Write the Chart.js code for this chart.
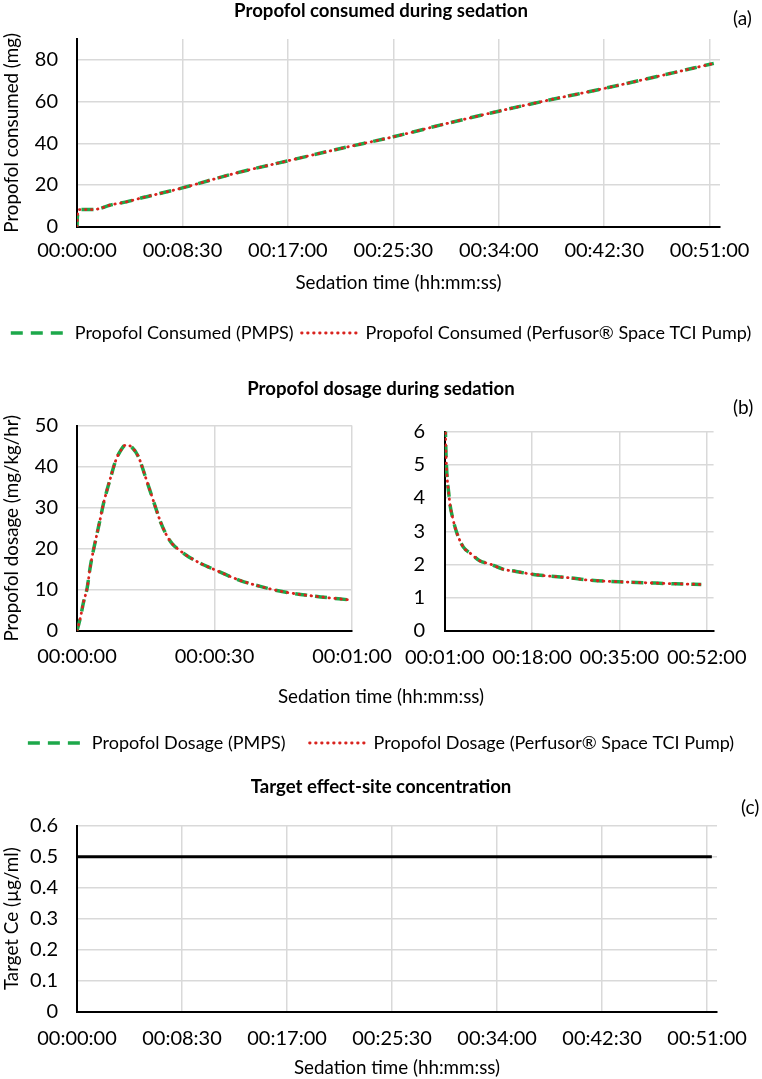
<!DOCTYPE html>
<html lang="en">
<head>
<meta charset="UTF-8">
<title>Propofol sedation</title>
<script src="https://cdn.jsdelivr.net/npm/chart.js@4"></script>
<style>
  body { margin: 0; background: #fff; font-family: Lato, sans-serif; }
  #page { position: relative; width: 762px; height: 1079px; overflow: hidden; }
  canvas { position: absolute; }
  .tag { position: absolute; font-size: 19px; line-height: 22px; color: #000; }
</style>
</head>
<body>
<div id="page">
  <canvas id="chartA" width="762" height="352" style="left:0;top:0"></canvas>
  <canvas id="chartB1" width="762" height="392" style="left:0;top:370px"></canvas>
  <canvas id="chartB2" width="382" height="276" style="left:380px;top:400px"></canvas>
  <canvas id="chartC" width="762" height="309" style="left:0;top:770px"></canvas>
  <span class="tag" style="left:733px;top:7px">(a)</span>
  <span class="tag" style="left:733px;top:396px">(b)</span>
  <span class="tag" style="left:741px;top:796px">(c)</span>
</div>

<script>
// (a) propofol consumed (mg) vs time (s)
const consumedTime = [0, 2, 10, 77, 110, 158, 239, 319, 400, 510, 765, 1020, 1275, 1530, 1785, 2040, 2295, 2550, 2805, 3080];
const consumedPMPS = [0, 5, 8.2, 8.2, 8.7, 10.3, 11.9, 14.0, 15.9, 18.6, 25.6, 31.6, 37.5, 43.1, 49.4, 55.4, 61.0, 66.3, 72.0, 78.3];
const consumedPerfusor = [0, 5, 8.2, 8.2, 8.7, 10.3, 11.9, 14.0, 15.9, 18.6, 25.6, 31.6, 37.5, 43.1, 49.4, 55.4, 61.0, 66.3, 72.0, 78.3];

// (b) dosage (mg/kg/hr), first minute
const dosageEarlyTime = [0, 0.7, 1.45, 2.2, 2.9, 3.6, 4.4, 5.1, 5.8, 6.55, 7.4, 8.35, 9.4, 10.7, 12, 13.4, 14.9, 16, 17.1, 18.2, 19.3, 20.7, 22.5, 24.4, 27, 30, 35.5, 40, 45, 52, 59.6];
const dosageEarlyPMPS = [0, 3.0, 7.1, 10.3, 15.6, 19.7, 23.8, 27.4, 31.1, 34.3, 37.6, 41.2, 43.7, 45.3, 44.7, 42.4, 37.6, 33.9, 30.2, 26.6, 23.8, 21.3, 19.5, 18.0, 16.4, 14.9, 12.3, 10.8, 9.5, 8.4, 7.5];
const dosageEarlyPerfusor = [0, 3.0, 7.1, 10.3, 15.6, 19.7, 23.8, 27.4, 31.1, 34.3, 37.6, 41.2, 43.7, 45.3, 44.7, 42.4, 37.6, 33.9, 30.2, 26.6, 23.8, 21.3, 19.5, 18.0, 16.4, 14.9, 12.3, 10.8, 9.5, 8.4, 7.5];

// (b) dosage after the first minute
const dosageLateTime = [60, 66, 72, 80, 92, 105, 122, 153, 199, 276, 373, 469, 585, 740, 894, 1049, 1242, 1512, 1745, 2208, 2517, 2749, 3057];
const dosageLatePMPS = [7.4, 6.4, 5.6, 5.0, 4.5, 4.2, 3.8, 3.4, 2.97, 2.53, 2.31, 2.11, 2.02, 1.86, 1.79, 1.72, 1.66, 1.6, 1.53, 1.47, 1.44, 1.42, 1.40];
const dosageLatePerfusor = [7.4, 6.4, 5.6, 5.0, 4.5, 4.2, 3.8, 3.4, 2.97, 2.53, 2.31, 2.11, 2.02, 1.86, 1.79, 1.72, 1.66, 1.6, 1.53, 1.47, 1.44, 1.42, 1.40];

// (c) target Ce (µg/ml)
const targetTime = [0, 3083];
const targetCe = [0.5, 0.5];

// tick labels
const ticksLong = ['00:00:00', '00:08:30', '00:17:00', '00:25:30', '00:34:00', '00:42:30', '00:51:00'];
const ticksEarly = ['00:00:00', '00:00:30', '00:01:00'];
const ticksLate = ['00:01:00', '00:18:00', '00:35:00', '00:52:00'];
const yTicksA = [0, 20, 40, 60, 80];
const yTicksEarly = [0, 10, 20, 30, 40, 50];
const yTicksLate = [0, 1, 2, 3, 4, 5, 6];
const yTicksC = [0, 0.1, 0.2, 0.3, 0.4, 0.5, 0.6];

const GREEN = '#1DA84A';
const RED = '#D9231E';
const GRID = '#D9D9D9';
const AXIS_TITLE = { size: 18.8 };
const TITLE = { size: 18.6, weight: 'bold' };

Chart.defaults.font.family = 'Lato';
Chart.defaults.font.size = 20;
Chart.defaults.color = '#000';
Chart.defaults.animation = false;
Chart.defaults.responsive = false;

function toSec(label) {
    const p = label.split(':').map(Number);
    return p[0] * 3600 + p[1] * 60 + p[2];
}

function hms(v) {
    const h = Math.floor(v / 3600), m = Math.floor(v % 3600 / 60), s = Math.round(v % 60);
    return [h, m, s].map(n => String(n).padStart(2, '0')).join(':');
}

function pts(xs, ys) {
    return xs.map((x, i) => ({ x: x, y: ys[i] }));
}

function xAxis(min, max, labels, height, tickPad, title, titlePad) {
    return {
        type: 'linear', position: 'bottom', min: min, max: max,
        afterBuildTicks: s => { s.ticks = labels.map(l => ({ value: toSec(l) })); },
        afterFit: s => { s.height = height; },
        ticks: { padding: tickPad, maxRotation: 0, autoSkip: false, callback: v => hms(v) },
        grid: { color: GRID, lineWidth: 1.5, drawTicks: false },
        border: { color: '#000', width: 2 },
        title: title ? { display: true, text: title, font: AXIS_TITLE, padding: { top: 0, bottom: titlePad } } : { display: false }
    };
}

function yAxis(min, max, values, width, tickPad, title) {
    return {
        type: 'linear', position: 'left', min: min, max: max,
        afterBuildTicks: s => { s.ticks = values.map(v => ({ value: v })); },
        afterFit: s => { s.width = width; },
        ticks: { padding: tickPad, callback: v => String(v) },
        grid: { color: GRID, lineWidth: 1.5, drawTicks: false },
        border: { color: '#000', width: 2 },
        title: title ? { display: true, text: title, font: AXIS_TITLE, padding: { top: 0.4, bottom: 0 } } : { display: false }
    };
}

// empty right-hand axis that only reserves room, so titles and legends stay centred on the page
function spacer(width) {
    return {
        type: 'linear', position: 'right', display: true,
        grid: { display: false, drawTicks: false }, border: { display: false }, ticks: { display: false },
        afterFit: s => { s.width = width; }
    };
}

function greenSet(label, data) {
    return { label: label, data: data, xAxisID: 'x', yAxisID: 'y', borderColor: GREEN, backgroundColor: GREEN,
        borderWidth: 3.5, borderDash: [12, 8], pointRadius: 0, order: 2, cubicInterpolationMode: 'monotone' };
}

function redSet(label, data) {
    return { label: label, data: data, xAxisID: 'x', yAxisID: 'y', borderColor: RED, backgroundColor: RED,
        borderWidth: 2.8, borderDash: [0.5, 5.5], borderCapStyle: 'round', pointRadius: 0, order: 1, cubicInterpolationMode: 'monotone' };
}

function legendOpts(pad) {
    return {
        display: true, position: 'bottom',
        labels: {
            boxWidth: 55, boxHeight: 0, padding: pad, font: { size: 18 },
            sort: (a, b) => a.datasetIndex - b.datasetIndex,
            generateLabels: chart => Chart.defaults.plugins.legend.labels.generateLabels(chart)
                .map(it => Object.assign(it, { lineWidth: 0, fillStyle: 'rgba(0,0,0,0)', strokeStyle: 'rgba(0,0,0,0)' }))
        }
    };
}

// draws the legend samples as plain dashed / dotted lines
const lineSamples = {
    id: 'lineSamples',
    afterDraw(chart) {
        const lg = chart.legend;
        if (!lg || !lg.options.display) return;
        const ctx = chart.ctx;
        const bw = lg.options.labels.boxWidth;
        lg.legendItems.forEach((item, i) => {
            const hb = lg.legendHitBoxes[i];
            const ds = chart.data.datasets[item.datasetIndex];
            const y = hb.top + hb.height / 2;
            ctx.save();
            ctx.strokeStyle = ds.borderColor;
            ctx.lineWidth = ds.borderWidth;
            ctx.setLineDash(ds.borderDash || []);
            ctx.lineCap = ds.borderCapStyle || 'butt';
            ctx.beginPath();
            ctx.moveTo(hb.left, y);
            ctx.lineTo(hb.left + bw, y);
            ctx.stroke();
            ctx.restore();
        });
    }
};

// (a)
new Chart(document.getElementById('chartA'), {
    type: 'line',
    data: {
        datasets: [
            greenSet('Propofol Consumed (PMPS)', pts(consumedTime, consumedPMPS)),
            redSet('Propofol Consumed (Perfusor® Space TCI Pump)', pts(consumedTime, consumedPerfusor))
        ]
    },
    options: {
        layout: { padding: 0 },
        scales: {
            x: xAxis(0, 3110, ticksLong, 89.3, 11.8, 'Sedation time (hh:mm:ss)', 21.7),
            y: yAxis(0, 90, yTicksA, 77, 19, 'Propofol consumed (mg)'),
            yR: spacer(42)
        },
        plugins: {
            title: { display: true, text: 'Propofol consumed during sedation', color: '#000',
                font: TITLE, padding: { top: 0, bottom: 16.7 } },
            legend: legendOpts(8),
            tooltip: { enabled: false }
        }
    },
    plugins: [lineSamples]
});

// (b) left panel, carries title, shared axis title and legend
new Chart(document.getElementById('chartB1'), {
    type: 'line',
    data: {
        datasets: [
            greenSet('Propofol Dosage (PMPS)', pts(dosageEarlyTime, dosageEarlyPMPS)),
            redSet('Propofol Dosage (Perfusor® Space TCI Pump)', pts(dosageEarlyTime, dosageEarlyPerfusor))
        ]
    },
    options: {
        layout: { padding: 0 },
        scales: {
            x: xAxis(0, 60, ticksEarly, 45, 14.3, null, 0),
            y: yAxis(0, 50, yTicksEarly, 77, 19, 'Propofol dosage (mg/kg/hr)'),
            yR: spacer(410)
        },
        plugins: {
            title: { display: true, text: 'Propofol dosage during sedation', color: '#000',
                font: TITLE, padding: { top: 7.8, bottom: 25.5 } },
            subtitle: { display: true, position: 'bottom', weight: 500, text: 'Sedation time (hh:mm:ss)', color: '#000',
                font: { size: 18.8, weight: 'normal' }, padding: { top: 10, bottom: 1.7 } },
            legend: legendOpts(24),
            tooltip: { enabled: false }
        }
    },
    plugins: [lineSamples]
});

// (b) right panel
new Chart(document.getElementById('chartB2'), {
    type: 'line',
    data: {
        datasets: [
            greenSet('Propofol Dosage (PMPS)', pts(dosageLateTime, dosageLatePMPS)),
            redSet('Propofol Dosage (Perfusor® Space TCI Pump)', pts(dosageLateTime, dosageLatePerfusor))
        ]
    },
    options: {
        layout: { padding: { top: 26.7, right: 46.3, left: 0, bottom: 0 } },
        scales: {
            x: xAxis(60, 3200, ticksLate, 45, 14.3, null, 0),
            y: yAxis(0, 6, yTicksLate, 64.7, 19.5, null)
        },
        plugins: { legend: { display: false }, tooltip: { enabled: false } }
    }
});

// (c)
new Chart(document.getElementById('chartC'), {
    type: 'line',
    data: {
        datasets: [{
            label: 'Target Ce', data: pts(targetTime, targetCe), xAxisID: 'x', yAxisID: 'y',
            borderColor: '#000', backgroundColor: '#000', borderWidth: 3, pointRadius: 0
        }]
    },
    options: {
        layout: { padding: 0 },
        scales: {
            x: xAxis(0, 3108, ticksLong, 67.3, 14.6, 'Sedation time (hh:mm:ss)', 0),
            y: yAxis(0, 0.6, yTicksC, 77, 19, 'Target Ce (µg/ml)'),
            yR: spacer(31)
        },
        plugins: {
            title: { display: true, text: 'Target effect-site concentration', color: '#000',
                font: TITLE, padding: { top: 5.8, bottom: 27.5 } },
            legend: { display: false },
            tooltip: { enabled: false }
        }
    }
});
</script>
</body>
</html>
